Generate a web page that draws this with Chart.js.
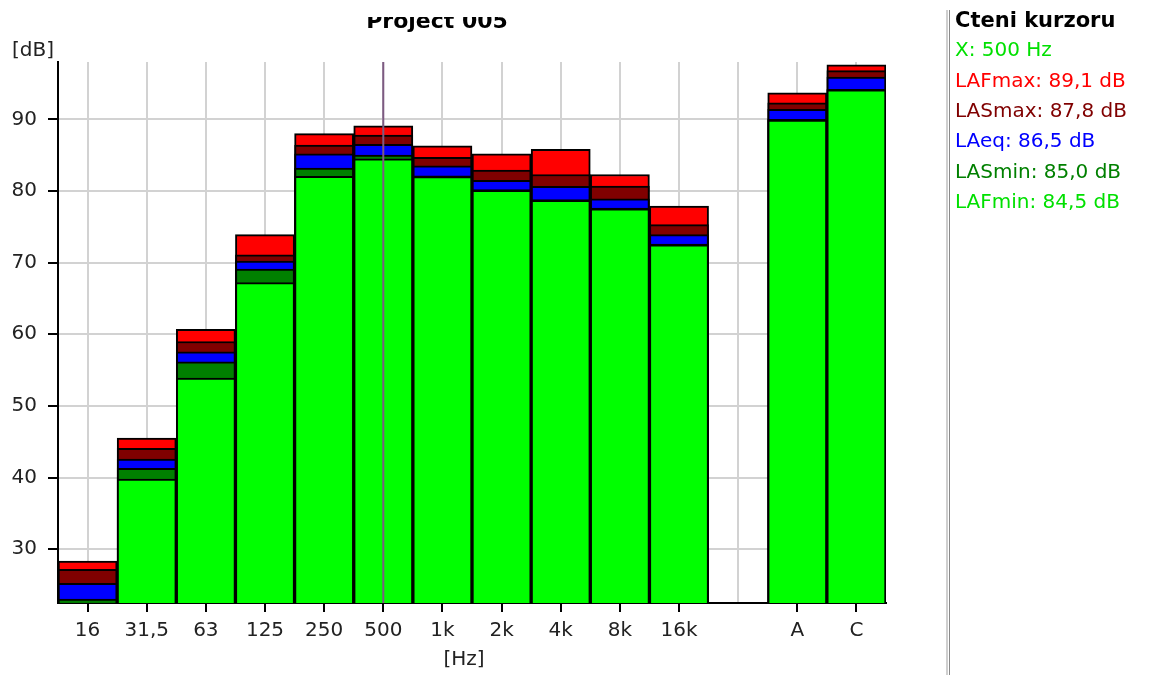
<!DOCTYPE html>
<html>
<head>
<meta charset="utf-8">
<title>Project 005</title>
<script src="https://cdn.jsdelivr.net/npm/chart.js@4.4.1/dist/chart.umd.min.js"></script>
<style>
  html, body { margin: 0; padding: 0; background: #fff; }
  #wrap { width: 1160px; height: 675px; position: relative; }
</style>
</head>
<body>
<div id="wrap"><canvas id="spectrum"></canvas></div>
<script>
// octave bands (empty slot between 16k and the A/C totals)
const bands = ["16", "31,5", "63", "125", "250", "500", "1k", "2k", "4k", "8k", "16k", "", "A", "C"];

// levels in dB
const lafMax = [28.35, 45.5, 60.7, 73.9, 88.0, 89.1, 86.3, 85.2, 85.8, 82.3, 77.9, null, 93.7, 97.6];
const lasMax = [27.2, 44.1, 59.0, 71.1, 86.4, 87.8, 84.7, 82.9, 82.3, 80.7, 75.3, null, 92.3, 96.8];
const laEq   = [25.25, 42.6, 57.55, 70.2, 85.2, 86.5, 83.5, 81.5, 80.65, 78.9, 73.9, null, 91.4, 95.9];
const lasMin = [23.05, 41.3, 56.15, 69.1, 83.2, 85.0, 82.1, 80.2, 78.8, 77.6, 72.6, null, 90.0, 94.2];
const lafMin = [22.5, 39.8, 53.9, 67.2, 82.05, 84.5, 82.0, 80.1, 78.7, 77.5, 72.5, null, 89.9, 94.1];

const yTicks = [30, 40, 50, 60, 70, 80, 90];
const cursorIndex = 5; // 500 Hz

const FONT = "'DejaVu Sans', sans-serif";

function fmt(v) {
  return v.toFixed(1).replace(".", ",");
}

// extra texts: clipped title, unit labels, cursor line, reading panel
const decorations = {
  id: "decorations",
  afterDatasetsDraw(chart) {
    const ctx = chart.ctx;
    const area = chart.chartArea;
    const x = chart.scales.x.getPixelForValue(cursorIndex);
    ctx.save();
    ctx.strokeStyle = "#7d5a82";
    ctx.lineWidth = 2;
    ctx.beginPath();
    ctx.moveTo(x, area.top);
    ctx.lineTo(x, area.bottom);
    ctx.stroke();
    ctx.restore();
  },
  afterDraw(chart) {
    const ctx = chart.ctx;
    ctx.save();

    // title, top part cut off like in the original window
    ctx.save();
    ctx.beginPath();
    ctx.rect(0, 17, 940, 40);
    ctx.clip();
    ctx.fillStyle = "#000";
    ctx.font = "bold 22px " + FONT;
    ctx.textAlign = "center";
    ctx.textBaseline = "alphabetic";
    ctx.fillText("Project 005", 437, 28);
    ctx.restore();

    ctx.font = "20px " + FONT;
    ctx.fillStyle = "#222";
    ctx.textAlign = "left";
    ctx.textBaseline = "alphabetic";
    ctx.fillText("[dB]", 12, 56);

    ctx.textAlign = "center";
    ctx.textBaseline = "middle";
    ctx.fillText("[Hz]", 464, 660);

    // panel divider
    ctx.fillStyle = "#cfcfcf";
    ctx.fillRect(946, 10, 2, 665);
    ctx.fillStyle = "#8a8a8a";
    ctx.fillRect(949, 10, 1, 665);

    // cursor readings
    ctx.beginPath();
    ctx.rect(952, 0, 185, 675);
    ctx.clip();
    ctx.textAlign = "left";
    ctx.textBaseline = "middle";
    ctx.fillStyle = "#000";
    ctx.font = "bold 21px " + FONT;
    ctx.fillText("Cteni kurzoru", 955, 22);
    ctx.font = "20px " + FONT;
    const rows = [
      ["X: " + bands[cursorIndex] + " Hz", "#00e000"],
      ["LAFmax: " + fmt(lafMax[cursorIndex]) + " dB", "#ff0000"],
      ["LASmax: " + fmt(lasMax[cursorIndex]) + " dB", "#800000"],
      ["LAeq: " + fmt(laEq[cursorIndex]) + " dB", "#0000ff"],
      ["LASmin: " + fmt(lasMin[cursorIndex]) + " dB", "#008000"],
      ["LAFmin: " + fmt(lafMin[cursorIndex]) + " dB", "#00e000"]
    ];
    rows.forEach((r, i) => {
      ctx.fillStyle = r[1];
      ctx.fillText(r[0], 955, 51 + i * 30.4);
    });
    ctx.restore();
  }
};

function series(label, data, color) {
  return {
    label: label,
    data: data,
    backgroundColor: color,
    borderColor: "#000",
    borderWidth: 2,
    borderSkipped: false,
    grouped: false,
    barPercentage: 1.0,
    categoryPercentage: 1.0
  };
}

new Chart(document.getElementById("spectrum"), {
  type: "bar",
  data: {
    labels: bands,
    // first dataset is painted last, so the lowest level ends up on top
    datasets: [
      series("LAFmin", lafMin, "#00ff00"),
      series("LASmin", lasMin, "#008000"),
      series("LAeq", laEq, "#0000ff"),
      series("LASmax", lasMax, "#800000"),
      series("LAFmax", lafMax, "#ff0000")
    ]
  },
  options: {
    responsive: true,
    maintainAspectRatio: false,
    animation: false,
    layout: { padding: { top: 62, right: 274, left: 0, bottom: 0 } },
    plugins: {
      legend: { display: false },
      tooltip: { enabled: false },
      title: { display: false }
    },
    scales: {
      x: {
        offset: true,
        afterFit: s => { s.height = 72; },
        border: { color: "#000", width: 2 },
        grid: {
          offset: false,
          color: "#d2d2d2",
          lineWidth: 2,
          tickLength: 9,
          tickWidth: 2,
          tickColor: c => (bands[c.index] === "" ? "rgba(0,0,0,0)" : "#000")
        },
        ticks: {
          autoSkip: false,
          maxRotation: 0,
          padding: 7,
          color: "#222",
          font: { family: FONT, size: 20 }
        }
      },
      y: {
        min: 22.5,
        max: 98,
        bounds: "data",
        afterFit: s => { s.width = 58; },
        afterBuildTicks: s => { s.ticks = yTicks.map(v => ({ value: v })); },
        border: { color: "#000", width: 2 },
        grid: {
          color: "#d2d2d2",
          lineWidth: 2,
          tickLength: 10,
          tickWidth: 2,
          tickColor: "#000"
        },
        ticks: {
          padding: 11,
          color: "#222",
          font: { family: FONT, size: 20 }
        }
      }
    }
  },
  plugins: [decorations]
});
</script>
</body>
</html>
